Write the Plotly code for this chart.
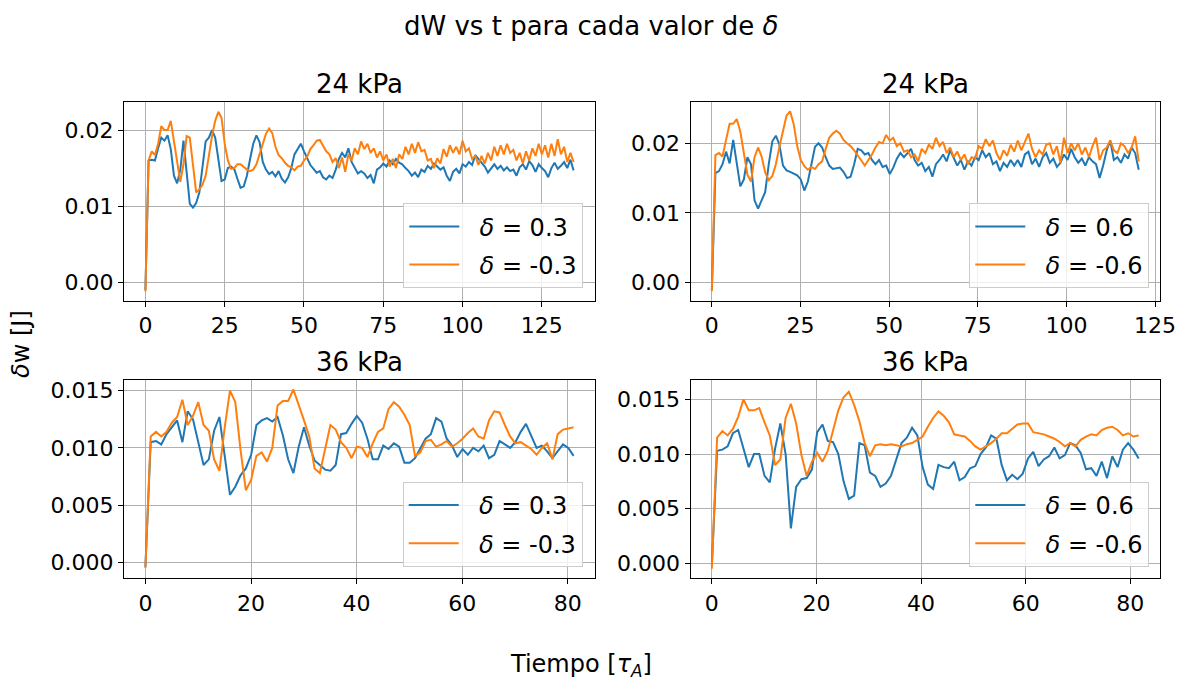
import numpy as np
import plotly.graph_objects as go

FONT = "DejaVu Sans"
BLUE = "#1f77b4"
ORANGE = "#ff7f0e"

# ---------------- data ----------------
panel_titles = ["24 kPa", "24 kPa", "36 kPa", "36 kPa"]
legend_labels = [["<i>δ</i> = 0.3", "<i>δ</i> = -0.3"],
                 ["<i>δ</i> = 0.6", "<i>δ</i> = -0.6"],
                 ["<i>δ</i> = 0.3", "<i>δ</i> = -0.3"],
                 ["<i>δ</i> = 0.6", "<i>δ</i> = -0.6"]]
t_end = [135.0, 120.4, 81.1, 81.6]

p1_pos = [-0.0010, 0.0160, 0.0161, 0.0160, 0.0176, 0.0190, 0.0186, 0.0193, 0.0175, 0.0140,
          0.0130, 0.0148, 0.0186, 0.0140, 0.0103, 0.0098, 0.0104, 0.0118, 0.0155, 0.0185,
          0.0190, 0.0200, 0.0190, 0.0158, 0.0133, 0.0135, 0.0150, 0.0152, 0.0149, 0.0136,
          0.0124, 0.0126, 0.0140, 0.0162, 0.0182, 0.0193, 0.0184, 0.0158, 0.0148, 0.0142,
          0.0145, 0.0139, 0.0146, 0.0136, 0.0131, 0.0138, 0.0150, 0.0168, 0.0175, 0.0182,
          0.0172, 0.0162, 0.0154, 0.0149, 0.0144, 0.0146, 0.0138, 0.0135, 0.0140, 0.0137,
          0.0148, 0.0162, 0.0170, 0.0164, 0.0176, 0.0158, 0.0150, 0.0143, 0.0146, 0.0143,
          0.0137, 0.0141, 0.0130, 0.0148, 0.0151, 0.0156, 0.0152, 0.0160, 0.0155, 0.0162,
          0.0157, 0.0155, 0.0150, 0.0146, 0.0140, 0.0144, 0.0138, 0.0148, 0.0145, 0.0153,
          0.0149, 0.0156, 0.0152, 0.0148, 0.0151, 0.0140, 0.0133, 0.0145, 0.0149, 0.0143,
          0.0155, 0.0152, 0.0158, 0.0154, 0.0167, 0.0162, 0.0158, 0.0152, 0.0144, 0.0150,
          0.0155, 0.0149, 0.0153, 0.0147, 0.0151, 0.0146, 0.0148, 0.0140, 0.0151, 0.0155,
          0.0148, 0.0159, 0.0154, 0.0145, 0.0155, 0.0150, 0.0146, 0.0138, 0.0150, 0.0157,
          0.0149, 0.0153, 0.0158, 0.0150, 0.0161, 0.0147]
p1_neg = [-0.0012, 0.0160, 0.0172, 0.0167, 0.0182, 0.0205, 0.0200, 0.0200, 0.0212, 0.0186,
          0.0160, 0.0132, 0.0155, 0.0192, 0.0190, 0.0150, 0.0118, 0.0122, 0.0128, 0.0140,
          0.0168, 0.0192, 0.0212, 0.0224, 0.0216, 0.0182, 0.0160, 0.0149, 0.0150, 0.0155,
          0.0155, 0.0151, 0.0148, 0.0146, 0.0148, 0.0155, 0.0169, 0.0182, 0.0195, 0.0202,
          0.0196, 0.0178, 0.0167, 0.0163, 0.0157, 0.0153, 0.0151, 0.0147, 0.0152, 0.0153,
          0.0160, 0.0165, 0.0175, 0.0180, 0.0186, 0.0187, 0.0180, 0.0172, 0.0168, 0.0158,
          0.0163, 0.0150, 0.0164, 0.0145, 0.0168, 0.0160, 0.0176, 0.0168, 0.0185, 0.0175,
          0.0182, 0.0170, 0.0176, 0.0164, 0.0172, 0.0160, 0.0168, 0.0152, 0.0162, 0.0150,
          0.0168, 0.0162, 0.0178, 0.0168, 0.0182, 0.0170, 0.0184, 0.0172, 0.0174, 0.0160,
          0.0162, 0.0150, 0.0163, 0.0156, 0.0175, 0.0165, 0.0180, 0.0170, 0.0178, 0.0168,
          0.0186, 0.0172, 0.0176, 0.0162, 0.0166, 0.0154, 0.0166, 0.0156, 0.0170, 0.0160,
          0.0178, 0.0166, 0.0180, 0.0168, 0.0182, 0.0170, 0.0174, 0.0160, 0.0170, 0.0156,
          0.0172, 0.0160, 0.0176, 0.0166, 0.0182, 0.0168, 0.0180, 0.0164, 0.0182, 0.0166,
          0.0188, 0.0168, 0.0178, 0.0158, 0.0170, 0.0158]

p2_pos = [-0.0011, 0.0157, 0.0160, 0.0170, 0.0188, 0.0171, 0.0205, 0.0172, 0.0138, 0.0148,
          0.0180, 0.0170, 0.0118, 0.0106, 0.0118, 0.0130, 0.0170, 0.0203, 0.0211, 0.0198,
          0.0168, 0.0161, 0.0159, 0.0157, 0.0154, 0.0148, 0.0132, 0.0145, 0.0170, 0.0195,
          0.0200, 0.0194, 0.0180, 0.0168, 0.0163, 0.0164, 0.0165, 0.0159, 0.0150, 0.0152,
          0.0170, 0.0192, 0.0190, 0.0184, 0.0186, 0.0176, 0.0170, 0.0176, 0.0166, 0.0168,
          0.0156, 0.0165, 0.0178, 0.0186, 0.0180, 0.0186, 0.0192, 0.0176, 0.0168, 0.0172,
          0.0160, 0.0166, 0.0152, 0.0170, 0.0176, 0.0184, 0.0174, 0.0190, 0.0178, 0.0168,
          0.0176, 0.0162, 0.0174, 0.0168, 0.0180, 0.0176, 0.0190, 0.0180, 0.0186, 0.0170,
          0.0174, 0.0160, 0.0172, 0.0166, 0.0176, 0.0168, 0.0176, 0.0166, 0.0184, 0.0188,
          0.0170, 0.0178, 0.0166, 0.0180, 0.0186, 0.0172, 0.0178, 0.0166, 0.0172, 0.0184,
          0.0176, 0.0192, 0.0180, 0.0172, 0.0178, 0.0168, 0.0180, 0.0174, 0.0170, 0.0150,
          0.0168, 0.0190, 0.0204, 0.0176, 0.0180, 0.0172, 0.0184, 0.0178, 0.0194, 0.0186,
          0.0162]
p2_neg = [-0.0013, 0.0183, 0.0186, 0.0181, 0.0205, 0.0228, 0.0228, 0.0235, 0.0217, 0.0183,
          0.0155, 0.0145, 0.0180, 0.0194, 0.0181, 0.0158, 0.0147, 0.0153, 0.0170, 0.0195,
          0.0220, 0.0240, 0.0246, 0.0228, 0.0196, 0.0176, 0.0167, 0.0162, 0.0166, 0.0163,
          0.0170, 0.0174, 0.0192, 0.0208, 0.0214, 0.0218, 0.0214, 0.0205, 0.0200, 0.0196,
          0.0190, 0.0182, 0.0174, 0.0168, 0.0176, 0.0184, 0.0194, 0.0202, 0.0200, 0.0212,
          0.0204, 0.0208, 0.0196, 0.0200, 0.0188, 0.0190, 0.0180, 0.0184, 0.0174, 0.0192,
          0.0186, 0.0198, 0.0192, 0.0208, 0.0196, 0.0202, 0.0186, 0.0194, 0.0180, 0.0188,
          0.0176, 0.0184, 0.0170, 0.0180, 0.0178, 0.0196, 0.0192, 0.0206, 0.0196, 0.0204,
          0.0186, 0.0176, 0.0190, 0.0182, 0.0198, 0.0188, 0.0204, 0.0190, 0.0202, 0.0214,
          0.0192, 0.0180, 0.0190, 0.0184, 0.0198, 0.0200, 0.0184, 0.0196, 0.0172, 0.0208,
          0.0186, 0.0200, 0.0190, 0.0200, 0.0184, 0.0194, 0.0180, 0.0196, 0.0208, 0.0176,
          0.0190, 0.0194, 0.0204, 0.0190, 0.0186, 0.0200, 0.0196, 0.0186, 0.0194, 0.0210,
          0.0174]

p3_pos = [-0.0004, 0.0105, 0.0106, 0.0103, 0.0112, 0.0118, 0.0124, 0.0105, 0.0132, 0.0125,
          0.0104, 0.0085, 0.0090, 0.0115, 0.0127, 0.0093, 0.0059, 0.0066, 0.0076, 0.0082,
          0.0094, 0.0120, 0.0124, 0.0126, 0.0123, 0.0127, 0.0111, 0.0090, 0.0078, 0.0101,
          0.0118, 0.0102, 0.0089, 0.0085, 0.0081, 0.0080, 0.0085, 0.0112, 0.0113, 0.0121,
          0.0128, 0.0122, 0.0108, 0.0090, 0.0090, 0.0102, 0.0099, 0.0104, 0.0101, 0.0087,
          0.0087, 0.0091, 0.0100, 0.0108, 0.0112, 0.0126, 0.0123, 0.0108, 0.0102, 0.0092,
          0.0099, 0.0094, 0.0100, 0.0097, 0.0102, 0.0091, 0.0094, 0.0106, 0.0103, 0.0100,
          0.0105, 0.0114, 0.0121, 0.0111, 0.0100, 0.0102, 0.0097, 0.0091, 0.0097, 0.0103,
          0.0100, 0.0093]
p3_neg = [-0.0005, 0.0110, 0.0114, 0.0110, 0.0114, 0.0122, 0.0127, 0.0142, 0.0120, 0.0128,
          0.0140, 0.0120, 0.0115, 0.0090, 0.0080, 0.0118, 0.0150, 0.0140, 0.0098, 0.0063,
          0.0072, 0.0093, 0.0096, 0.0088, 0.0100, 0.0137, 0.0141, 0.0141, 0.0151, 0.0138,
          0.0124, 0.0110, 0.0082, 0.0078, 0.0100, 0.0120, 0.0116, 0.0105, 0.0100, 0.0091,
          0.0101, 0.0100, 0.0092, 0.0104, 0.0114, 0.0117, 0.0134, 0.0140, 0.0136, 0.0129,
          0.0120, 0.0093, 0.0096, 0.0106, 0.0107, 0.0101, 0.0103, 0.0106, 0.0101, 0.0104,
          0.0108, 0.0113, 0.0117, 0.0110, 0.0108, 0.0124, 0.0132, 0.0131, 0.0120, 0.0110,
          0.0104, 0.0105, 0.0102, 0.0099, 0.0094, 0.0100, 0.0104, 0.0090, 0.0112, 0.0116,
          0.0117, 0.0118]

p4_pos = [-0.0002, 0.0103, 0.0104, 0.0107, 0.0119, 0.0122, 0.0105, 0.0088, 0.0100, 0.0100,
          0.0080, 0.0074, 0.0105, 0.0128, 0.0100, 0.0032, 0.0070, 0.0077, 0.0078, 0.0086,
          0.0120, 0.0127, 0.0112, 0.0111, 0.0100, 0.0075, 0.0059, 0.0062, 0.0110, 0.0108,
          0.0083, 0.0080, 0.0070, 0.0073, 0.0080, 0.0096, 0.0110, 0.0115, 0.0124, 0.0117,
          0.0088, 0.0072, 0.0068, 0.0090, 0.0088, 0.0087, 0.0093, 0.0076, 0.0079, 0.0087,
          0.0089, 0.0100, 0.0106, 0.0117, 0.0114, 0.0090, 0.0076, 0.0081, 0.0077, 0.0082,
          0.0096, 0.0102, 0.0089, 0.0095, 0.0098, 0.0106, 0.0096, 0.0099, 0.0110, 0.0108,
          0.0101, 0.0086, 0.0087, 0.0080, 0.0093, 0.0078, 0.0098, 0.0088, 0.0104, 0.0110,
          0.0104, 0.0096]
p4_neg = [-0.0005, 0.0115, 0.0121, 0.0117, 0.0123, 0.0134, 0.0150, 0.0140, 0.0140, 0.0142,
          0.0129, 0.0117, 0.0090, 0.0095, 0.0133, 0.0146, 0.0128, 0.0099, 0.0080, 0.0093,
          0.0101, 0.0093, 0.0103, 0.0122, 0.0140, 0.0152, 0.0157, 0.0145, 0.0130, 0.0110,
          0.0098, 0.0108, 0.0109, 0.0108, 0.0109, 0.0108, 0.0107, 0.0109, 0.0110, 0.0113,
          0.0116, 0.0125, 0.0133, 0.0139, 0.0135, 0.0129, 0.0118, 0.0117, 0.0116, 0.0112,
          0.0107, 0.0104, 0.0107, 0.0110, 0.0114, 0.0119, 0.0119, 0.0123, 0.0127, 0.0128,
          0.0128, 0.0120, 0.0119, 0.0118, 0.0116, 0.0114, 0.0111, 0.0107, 0.0110, 0.0107,
          0.0113, 0.0116, 0.0118, 0.0117, 0.0122, 0.0124, 0.0125, 0.0122, 0.0117, 0.0119,
          0.0116, 0.0117]

x_ticks = [[0, 25, 50, 75, 100, 125], [0, 25, 50, 75, 100, 125],
           [0, 20, 40, 60, 80], [0, 20, 40, 60, 80]]
y_ticks = [[0.0, 0.01, 0.02], [0.0, 0.01, 0.02],
           [0.0, 0.005, 0.010, 0.015], [0.0, 0.005, 0.010, 0.015]]
y_fmt = [".2f", ".2f", ".3f", ".3f"]

series = [(p1_pos, p1_neg), (p2_pos, p2_neg), (p3_pos, p3_neg), (p4_pos, p4_neg)]

# ---------------- layout geometry (pixels) ----------------
W, H = 1182, 684
x_dom_px = [(124, 595), (690.5, 1160), (124, 595), (690.5, 1160)]
y_dom_px = [(101.7, 300.7), (101.7, 300.7), (379.7, 578.3), (379.7, 578.3)]
x_ranges = [(-6.75, 141.75), (-6.02, 126.4), (-4.055, 85.16), (-4.08, 85.68)]
y_ranges = [(-0.00242, 0.02372), (-0.00265, 0.02599), (-0.0014, 0.01596), (-0.00137, 0.0168)]
legend_pos_px = [(583.3, 288.3), (1149.3, 288.3), (582.7, 567), (1149.3, 567)]
title_y_px = [84, 84, 362, 362]

fig = go.Figure()
layout = dict(width=W, height=H, margin=dict(l=0, r=0, t=0, b=0, autoexpand=False),
              paper_bgcolor="white", plot_bgcolor="white",
              font=dict(family=FONT, color="black"), showlegend=True)
annotations = []

for i in range(4):
    k = "" if i == 0 else str(i + 1)
    pos, neg = series[i]
    leg = "legend" if i == 0 else f"legend{i + 1}"
    for j, (vals, color, name) in enumerate(((pos, BLUE, legend_labels[i][0]),
                                             (neg, ORANGE, legend_labels[i][1]))):
        tt = np.linspace(0, t_end[i], len(vals))
        fig.add_trace(go.Scatter(x=tt, y=vals, mode="lines", name="\u00a0\u00a0" + name,
                                 line=dict(color=color, width=2),
                                 legendgroup=f"g{i}_{j}",
                                 xaxis="x" + k, yaxis="y" + k, legend=leg))
    xd = x_dom_px[i]
    yd = y_dom_px[i]
    axis_common = dict(showline=True, mirror=True, linecolor="black", linewidth=1,
                       ticks="outside", ticklen=5, tickwidth=1, tickcolor="black",
                       showgrid=True, gridcolor="#b0b0b0", gridwidth=0.8,
                       zeroline=False, automargin=False,
                       tickfont=dict(size=22, family=FONT, color="black"))
    layout["xaxis" + k] = dict(domain=[xd[0] / W, xd[1] / W], range=list(x_ranges[i]),
                               anchor="y" + k, tickvals=x_ticks[i], **axis_common)
    layout["yaxis" + k] = dict(domain=[1 - yd[1] / H, 1 - yd[0] / H], range=list(y_ranges[i]),
                               anchor="x" + k, tickvals=y_ticks[i], tickformat=y_fmt[i],
                               **axis_common)
    lx, ly = legend_pos_px[i]
    layout[leg] = dict(x=lx / W, y=1 - ly / H, xanchor="right", yanchor="bottom",
                       xref="paper", yref="paper",
                       bgcolor="rgba(255,255,255,0.8)", bordercolor="#cccccc", borderwidth=1,
                       font=dict(size=24, family=FONT, color="black"), itemwidth=50,
                       tracegroupgap=4)
    annotations.append(dict(text=panel_titles[i], x=(xd[0] + xd[1]) / 2 / W,
                            y=1 - title_y_px[i] / H, xref="paper", yref="paper",
                            xanchor="center", yanchor="middle", showarrow=False,
                            font=dict(size=26, family=FONT, color="black")))

annotations.append(dict(text="dW vs t para cada valor de <i>δ</i>", x=591 / W, y=1 - 26 / H,
                        xref="paper", yref="paper", xanchor="center", yanchor="middle",
                        showarrow=False, font=dict(size=26, family=FONT, color="black")))
annotations.append(dict(text="<i>δ</i>w [J]", x=21 / W, y=1 - 344 / H, textangle=-90,
                        xref="paper", yref="paper", xanchor="center", yanchor="middle",
                        showarrow=False, font=dict(size=24, family=FONT, color="black")))
annotations.append(dict(text="Tiempo [<i>τ</i><sub><i>A</i></sub>]", x=581 / W, y=1 - 665 / H,
                        xref="paper", yref="paper", xanchor="center", yanchor="middle",
                        showarrow=False, font=dict(size=24, family=FONT, color="black")))
layout["annotations"] = annotations
fig.update_layout(**layout)
fig.write_html("out.html", config={"displayModeBar": False},
               post_script="document.body.style.margin='0px';document.body.style.overflow='hidden';")
